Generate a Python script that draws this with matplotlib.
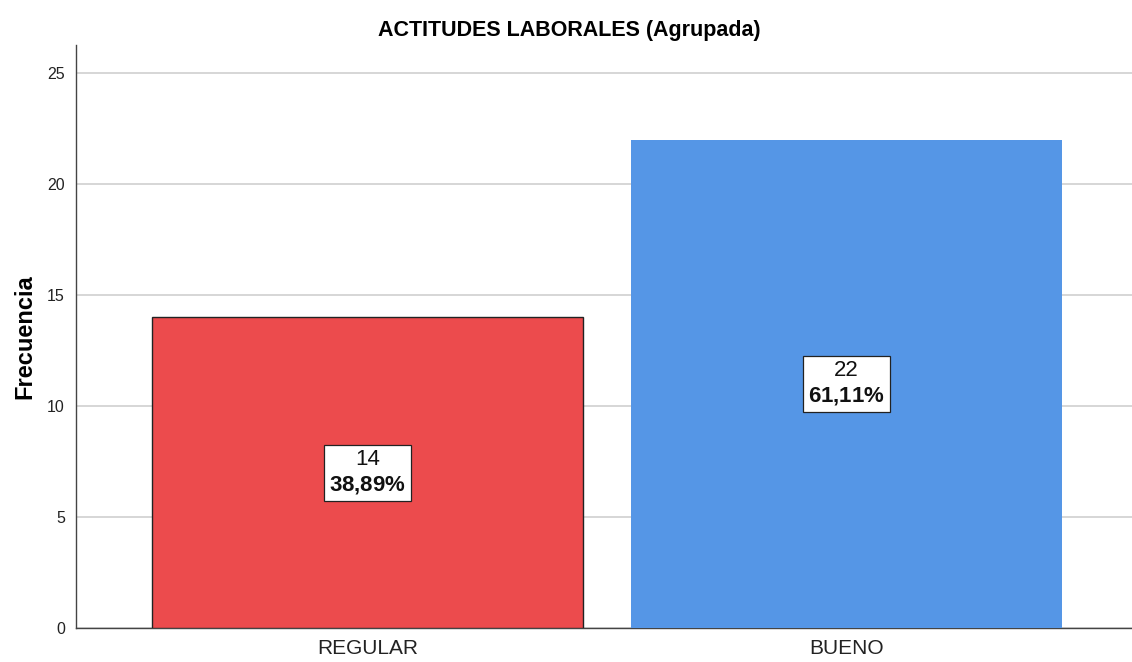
import matplotlib
matplotlib.use("Agg")
import matplotlib.pyplot as plt

categories = ["REGULAR", "BUENO"]
counts = [14, 22]
percents = ["38{,}89\\%", "61{,}11\\%"]
colors = ["#EC4B4D", "#5596E6"]
edgecolors = ["#222222", "none"]
yticks = [0, 5, 10, 15, 20, 25]

plt.rcParams['font.family'] = ['Liberation Sans', 'DejaVu Sans']
plt.rcParams['mathtext.fontset'] = 'custom'
plt.rcParams['mathtext.bf'] = 'Liberation Sans:bold'
plt.rcParams['mathtext.rm'] = 'Liberation Sans'

fig = plt.figure(figsize=(11.32, 6.62), dpi=100)
ax = fig.add_axes([0.0671, 0.0514, 0.9329, 0.8806])

x = list(range(len(categories)))
for xi, c, pct, col, ec in zip(x, counts, percents, colors, edgecolors):
    ax.bar(xi, c, width=0.9, color=col, edgecolor=ec, linewidth=1.0, zorder=3)
    ax.text(xi, c / 2, f"{c}\n$\\mathbf{{{pct}}}$", ha='center', va='center', multialignment='center',
            fontsize=16, color='#111111', zorder=4, linespacing=1.25,
            bbox=dict(boxstyle='square,pad=0.22', facecolor='white', edgecolor='#222222', linewidth=0.9))

ax.set_xlim(-0.6086, 1.596)
ax.set_ylim(0, 26.26)
ax.set_yticks(yticks)
ax.set_xticks(x)
ax.set_xticklabels(categories, fontsize=15, color='#222222')
ax.tick_params(axis='y', labelsize=11.5, length=0, pad=8, colors='#222222')
ax.tick_params(axis='x', length=0, pad=8)
ax.grid(axis='y', color='#D0D0D0', linewidth=1.2, zorder=0)
ax.set_axisbelow(True)
for s in ['top', 'right']:
    ax.spines[s].set_visible(False)
for s in ['left', 'bottom']:
    ax.spines[s].set_color('#444444')
    ax.spines[s].set_linewidth(1.0)

ax.set_ylabel("Frecuencia", fontsize=17, fontweight='bold', labelpad=8)
fig.suptitle("ACTITUDES LABORALES (Agrupada)", x=0.503, y=0.97, va='top', fontsize=15.5, fontweight='bold')

fig.savefig("out.png", dpi=100)
